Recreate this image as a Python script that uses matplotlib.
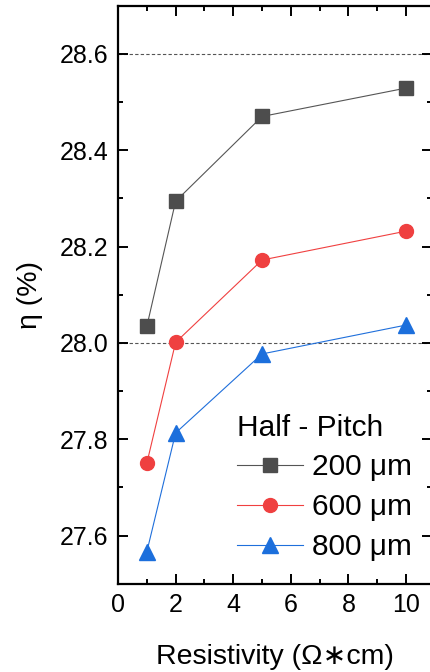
import matplotlib
matplotlib.use('Agg')
import matplotlib.pyplot as plt
from matplotlib.ticker import MultipleLocator

plt.rcParams['font.family'] = ['Liberation Sans', 'DejaVu Sans']

# data
resistivity = [1, 2, 5, 10]
eta_200 = [28.034, 28.294, 28.470, 28.529]
eta_600 = [27.750, 28.001, 28.172, 28.232]
eta_800 = [27.566, 27.813, 27.977, 28.037]
labels = ['200 μm', '600 μm', '800 μm']
ref_lines = [28.6, 28.0]

fig = plt.figure(figsize=(4.3, 6.72), dpi=100)
ax = fig.add_axes([0.2744, 0.1314, 0.7303, 0.8601])

for y in ref_lines:
    ax.axhline(y, color='#555555', lw=0.8, ls=(0, (3, 2)), zorder=1)

ax.plot(resistivity, eta_200, color='#555555', lw=0.8, marker='s', ms=9.5,
        mfc='#4d4d4d', mec='#4d4d4d', label=labels[0], zorder=3)
ax.plot(resistivity, eta_600, color='#f04040', lw=0.8, marker='o', ms=10,
        mfc='#ef4040', mec='#ef4040', label=labels[1], zorder=3)
ax.plot(resistivity, eta_800, color='#1f6fdb', lw=0.8, marker='^', ms=11,
        mfc='#1c6fdc', mec='#1c6fdc', label=labels[2], zorder=3)

ax.set_xlim(0, 10.9)
ax.set_ylim(27.5, 28.7)
ax.xaxis.set_major_locator(MultipleLocator(2))
ax.xaxis.set_minor_locator(MultipleLocator(1))
ax.yaxis.set_major_locator(MultipleLocator(0.2))
ax.yaxis.set_minor_locator(MultipleLocator(0.1))
ax.yaxis.set_major_formatter(plt.FormatStrFormatter('%.1f'))

ax.tick_params(which='both', direction='in', top=True, right=True, width=1.4,
               labelsize=18, pad=7)
ax.tick_params(which='major', length=7)
ax.tick_params(which='minor', length=3.6)
for s in ax.spines.values():
    s.set_linewidth(1.6)

ax.set_xlabel('Resistivity (Ω∗cm)', fontsize=20.5, labelpad=19)
ax.set_ylabel('η (%)', fontsize=20.5, labelpad=12)

leg = ax.legend(title='Half - Pitch', loc='lower left', bbox_to_anchor=(0.342, 0.018),
                frameon=False, fontsize=21.5, title_fontsize=21.5, handlelength=2.2,
                handletextpad=0.3, labelspacing=0.4, borderaxespad=0)
leg._legend_box.align = 'left'

fig.savefig('out.png', dpi=100)
